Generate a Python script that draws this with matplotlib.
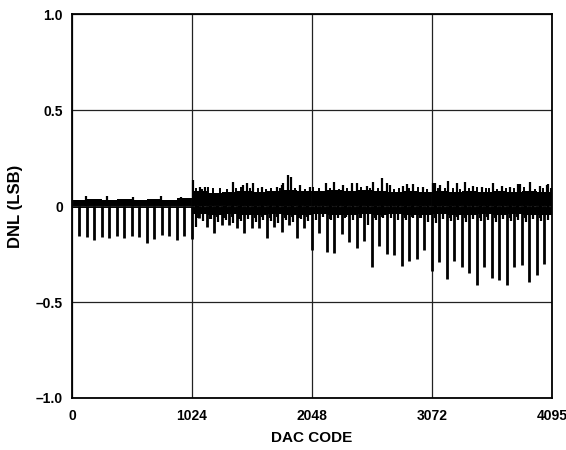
import matplotlib.pyplot as plt
import numpy as np

plt.rcParams['font.family'] = ['Liberation Sans', 'DejaVu Sans']

# noise band, one value per 128-code block
block_start = np.arange(0, 4096, 128)
band_top = [0.030, 0.035, 0.030, 0.035, 0.030, 0.035, 0.030, 0.040,
            0.080, 0.070, 0.075, 0.080, 0.075, 0.080, 0.085, 0.080,
            0.080, 0.085, 0.080, 0.085, 0.080, 0.075, 0.080, 0.075,
            0.080, 0.075, 0.080, 0.075, 0.080, 0.075, 0.080, 0.075]
band_bot = [-0.012] * 8 + [-0.040, -0.045, -0.040, -0.045, -0.045, -0.040, -0.045, -0.045,
                           -0.040, -0.045, -0.045, -0.040, -0.045, -0.040, -0.045, -0.045,
                           -0.040, -0.045, -0.045, -0.040, -0.045, -0.040, -0.045, -0.045]

# major negative spikes at codes 64k-1
spike_codes = np.arange(63, 4032, 64)
spike_vals = [-0.156, -0.160, -0.177, -0.160, -0.167, -0.156, -0.167, -0.156,
              -0.160, -0.190, -0.170, -0.150, -0.156, -0.177, -0.156, -0.170,
              -0.060, -0.110, -0.140, -0.100, -0.100, -0.115, -0.140, -0.115,
              -0.115, -0.167, -0.110, -0.135, -0.100, -0.167, -0.115, -0.230,
              -0.140, -0.240, -0.243, -0.146, -0.186, -0.220, -0.180, -0.316,
              -0.210, -0.250, -0.255, -0.310, -0.286, -0.276, -0.230, -0.340,
              -0.290, -0.380, -0.286, -0.316, -0.350, -0.410, -0.320, -0.377,
              -0.385, -0.410, -0.320, -0.307, -0.394, -0.360, -0.300]

# smaller negative spikes between the major ones (codes >= 1024)
minor_codes = np.arange(1055, 4096, 64)
minor_vals = [-0.108, -0.080, -0.070, -0.085, -0.075, -0.090, -0.080, -0.070,
              -0.085, -0.075, -0.080, -0.090, -0.075, -0.085, -0.070, -0.080,
              -0.073, -0.056, -0.073, -0.064, -0.056, -0.073, -0.064, -0.100,
              -0.073, -0.064, -0.064, -0.073, -0.073, -0.064, -0.064, -0.085,
              -0.090, -0.070, -0.080, -0.075, -0.085, -0.070, -0.080, -0.075,
              -0.085, -0.070, -0.080, -0.075, -0.085, -0.070, -0.080, -0.075]

# ragged lower edge of the band (codes >= 1024)
dip_codes = [1080, 1120, 1175, 1240, 1300, 1370, 1430, 1500, 1560, 1625, 1690, 1750,
             1815, 1880, 1940, 2010, 2080, 2140, 2200, 2270, 2330, 2395, 2460, 2525,
             2590, 2650, 2720, 2780, 2845, 2905, 2970, 3040, 3100, 3165, 3230, 3290,
             3355, 3420, 3485, 3545, 3610, 3675, 3740, 3800, 3865, 3930, 3995, 4060]
dip_vals = [-0.060, -0.055, -0.065, -0.058, -0.062, -0.055, -0.066, -0.058, -0.060, -0.055,
            -0.064, -0.057, -0.062, -0.055, -0.060, -0.058, -0.062, -0.056, -0.065, -0.058,
            -0.060, -0.055, -0.064, -0.058, -0.062, -0.056, -0.060, -0.058, -0.064, -0.055,
            -0.062, -0.058, -0.060, -0.056, -0.064, -0.058, -0.062, -0.055, -0.060, -0.058,
            -0.064, -0.056, -0.062, -0.058, -0.060, -0.055, -0.064, -0.058]

# positive peaks sticking out of the band
peak_codes = [120, 300, 520, 760, 930, 1035, 1092, 1135, 1371, 1462, 1490, 1547,
              1618, 1746, 1789, 1803, 1840, 1868, 1945, 2030, 2167, 2238,
              2315, 2386, 2434, 2514, 2571, 2648, 2690, 2713, 2827, 2855,
              2912, 2997, 3077, 3097, 3139, 3211, 3282, 3353, 3424, 3495,
              3594, 3666, 3737, 3808, 3822, 3907, 3992, 4050, 4064]
peak_vals = [0.050, 0.050, 0.048, 0.050, 0.048, 0.135, 0.100, 0.100, 0.123, 0.109, 0.118, 0.120,
             0.100, 0.100, 0.110, 0.120, 0.160, 0.153, 0.109, 0.100, 0.118, 0.127,
             0.109, 0.118, 0.120, 0.104, 0.127, 0.144, 0.118, 0.109, 0.104, 0.115,
             0.115, 0.100, 0.118, 0.120, 0.109, 0.130, 0.120, 0.127, 0.104, 0.100,
             0.120, 0.104, 0.100, 0.115, 0.115, 0.123, 0.104, 0.110, 0.115]

# smaller bumps on the upper edge of the band
bump_codes = [1060, 1110, 1165, 1200, 1260, 1320, 1400, 1440, 1520, 1585, 1660, 1700,
              1775, 1900, 1990, 2060, 2110, 2200, 2280, 2350, 2470, 2540, 2610, 2750,
              2790, 2880, 2950, 3030, 3120, 3180, 3250, 3310, 3390, 3460, 3530, 3560,
              3630, 3700, 3770, 3860, 3950, 4020, 4085]
bump_vals = [0.095, 0.090, 0.098, 0.092, 0.096, 0.090, 0.094, 0.097, 0.092, 0.095, 0.090, 0.096,
             0.093, 0.095, 0.090, 0.097, 0.093, 0.096, 0.091, 0.095, 0.098, 0.092, 0.095, 0.090,
             0.096, 0.093, 0.097, 0.091, 0.095, 0.092, 0.096, 0.090, 0.094, 0.097, 0.092, 0.095,
             0.090, 0.096, 0.093, 0.097, 0.091, 0.095, 0.092]

fig = plt.figure(figsize=(5.66, 4.5), dpi=100)
ax = fig.add_axes([0.127, 0.1156, 0.848, 0.853])

edges = np.append(block_start, 4095)
ax.fill_between(edges, np.append(band_bot, band_bot[-1]), np.append(band_top, band_top[-1]),
                step='post', color='black', linewidth=0)
ax.vlines(spike_codes, 0, spike_vals, color='black', linewidth=2.0)
ax.vlines(minor_codes, 0, minor_vals, color='black', linewidth=1.6)
ax.vlines(dip_codes, 0, dip_vals, color='black', linewidth=1.4)
ax.vlines(peak_codes, 0, peak_vals, color='black', linewidth=1.6)
ax.vlines(bump_codes, 0, bump_vals, color='black', linewidth=1.4)

ax.set_xlim(0, 4095)
ax.set_ylim(-1.0, 1.0)
ax.set_xticks([0, 1024, 2048, 3072, 4095])
ax.set_xticklabels(['0', '1024', '2048', '3072', '4095'])
ax.set_yticks([-1.0, -0.5, 0, 0.5, 1.0])
ax.set_yticklabels(['\u20131.0', '\u20130.5', '0', '0.5', '1.0'])
ax.tick_params(axis='y', length=0, pad=6.5, labelsize=10)
ax.tick_params(axis='x', length=0, pad=8, labelsize=10)
for lab in ax.get_xticklabels() + ax.get_yticklabels():
    lab.set_fontweight('bold')
ax.grid(True, color='#222222', linewidth=0.9)
for s in ax.spines.values():
    s.set_linewidth(1.3)

ax.set_xlabel('DAC CODE', fontsize=11, fontweight='bold', labelpad=6)
ax.set_ylabel('DNL (LSB)', fontsize=12, fontweight='bold')
ax.yaxis.set_label_coords(-0.102, 0.5)

plt.savefig('out.png', dpi=100)
